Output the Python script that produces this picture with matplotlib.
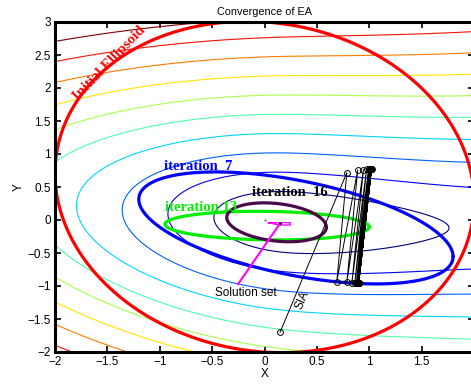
import numpy as np
import matplotlib
matplotlib.use("Agg")
import matplotlib.pyplot as plt

plt.rcParams['font.family'] = ['Liberation Sans', 'DejaVu Sans']
plt.rcParams['axes.unicode_minus'] = True

# ---- objective landscape (contoured) ----
valley_x0 = 0.25        # x of the valley minimum
slope_left = 2.3        # level growth per unit x to the left of the minimum
slope_right = 1.42      # level growth per unit x to the right of the minimum
flatten_right = 0.30    # quadratic easing of the growth to the right
bend = 0.3
mid_coef = [-0.013, -0.094, 0.019]   # valley centre line y = c0 + c1 x + c2 x^2
width_a, width_b = 0.29, 0.013       # vertical scale of the valley
contour_levels = [1.58, 2.58, 3.58, 4.58, 5.58, 6.58, 7.58, 8.58, 9.58, 10.58]

# ---- ellipsoids: centre and shape matrix [p11, p12, p22] ----
ell_initial_c = [0.0, 0.5]
ell_initial_P = [4.0, -0.42, 6.3]
ell_it7_c = [0.3, -0.12]
ell_it7_P = [2.25, -0.65, 0.72]
ell_it13_c = [0.025, -0.085]
ell_it13_P = [0.95, -0.02, 0.047]
ell_it16_c = [0.115, -0.035]
ell_it16_P = [0.226, -0.035, 0.087]

# ---- SIA iterates ----
sia_x = [0.149, 0.786, 0.690, 0.890, 0.786, 0.945, 0.834, 0.975, 0.862, 0.993, 0.876,
         1.003, 0.884, 1.009, 0.889, 1.013, 0.892, 1.016, 0.894, 1.018, 0.896, 1.019,
         0.897, 1.020, 0.898, 1.021, 0.898, 1.021, 0.899, 1.022, 0.899]
sia_y = [-1.70, 0.717, -0.935, 0.758, -0.945, 0.765, -0.952, 0.770, -0.955, 0.773, -0.957,
         0.775, -0.958, 0.776, -0.959, 0.777, -0.960, 0.778, -0.960, 0.778, -0.961, 0.779,
         -0.961, 0.779, -0.961, 0.779, -0.962, 0.780, -0.962, 0.780, -0.962]

# ---- solution set polygon ----
sol_x = [0.037, 0.245, 0.245, 0.14, 0.037]
sol_y = [-0.041, -0.041, -0.076, -0.076, -0.041]

x_ticks = [-2, -1.5, -1, -0.5, 0, 0.5, 1, 1.5, 2]
y_ticks = [-2, -1.5, -1, -0.5, 0, 0.5, 1, 1.5, 2, 2.5, 3]


def objective(x, y):
    dx = x - valley_x0
    c1 = 0.5 * (slope_left + slope_right)
    c2 = 0.5 * (slope_left - slope_right)
    u = c1 * dx - c2 * (np.sqrt(dx ** 2 + bend ** 2) - bend) - flatten_right * np.maximum(dx, 0) ** 2
    mid = mid_coef[0] + mid_coef[1] * x + mid_coef[2] * x ** 2
    v = (y - mid) / (width_a + width_b * x)
    return np.sqrt(u ** 2 + v ** 2)


def ellipse_pts(c, P, n=400):
    M = np.array([[P[0], P[1]], [P[1], P[2]]])
    L = np.linalg.cholesky(M)
    t = np.linspace(0, 2 * np.pi, n)
    pts = L @ np.vstack([np.cos(t), np.sin(t)])
    return c[0] + pts[0], c[1] + pts[1]


fig = plt.figure(figsize=(4.71, 3.86), dpi=100)
ax = fig.add_axes([55 / 471, 34 / 386, 419 / 471, 330 / 386])

gx = np.linspace(-2, 2, 600)
gy = np.linspace(-2, 3, 600)
GX, GY = np.meshgrid(gx, gy)
ax.contour(GX, GY, objective(GX, GY), levels=contour_levels, cmap='jet', linewidths=0.8)

for c, P, col in [(ell_initial_c, ell_initial_P, '#ff0000'),
                  (ell_it7_c, ell_it7_P, '#0000ff'),
                  (ell_it13_c, ell_it13_P, '#00ee00'),
                  (ell_it16_c, ell_it16_P, '#4a0a48')]:
    ex, ey = ellipse_pts(c, P)
    ax.plot(ex, ey, color=col, lw=2.3, solid_capstyle='round')

ax.plot(sia_x, sia_y, 'k-o', lw=0.7, ms=4.2, mfc='none', mew=0.7)

ax.plot(sol_x, sol_y, color='#ff00ff', lw=1.0)
ax.plot([0.14, -0.252], [-0.07, -0.97], color='#ff00ff', lw=1.5)
ax.plot([0.149], [-0.05], 'k.', ms=2)
ax.plot([0.0], [0.0], '.', color='#888888', ms=1.5)

serif = ['Liberation Serif', 'DejaVu Serif']
ax.text(-1.78, 1.80, 'Initial Ellipsoid', color='#ff0000', fontsize=10.5, fontweight='bold',
        family=serif, rotation=46, rotation_mode='anchor', ha='left', va='baseline')
ax.text(-0.96, 0.76, 'iteration  7', color='#0000ff', fontsize=10.5, fontweight='bold',
        family=serif, ha='left', va='baseline')
ax.text(-0.95, 0.14, 'iteration 13', color='#00ee00', fontsize=10.5, fontweight='bold',
        family=serif, ha='left', va='baseline')
ax.text(-0.12, 0.36, 'iteration  16', color='black', fontsize=10.5, fontweight='bold',
        family=serif, ha='left', va='baseline')
ax.text(-0.176, -1.106, 'Solution set', fontsize=8.5, ha='center', va='center')
ax.text(0.36, -1.21, 'SIA', fontsize=8.5, rotation=67, ha='center', va='center')

ax.set_xlim(-2, 2)
ax.set_ylim(-2, 3)
ax.set_xticks(x_ticks)
ax.set_yticks(y_ticks)
ax.set_xticklabels([f'{v:g}'.replace('-', '\u2212') for v in x_ticks])
ax.set_yticklabels([f'{v:g}'.replace('-', '\u2212') for v in y_ticks])
ax.tick_params(direction='in', length=4, width=1.2, labelsize=8.5, top=True, right=True, pad=3)
for s in ax.spines.values():
    s.set_linewidth(2.2)
ax.set_xlabel('X', fontsize=8.5, labelpad=0)
ax.set_ylabel('Y', fontsize=8.5, labelpad=2)
ax.set_title('Convergence of EA', fontsize=7.8, pad=5)

fig.savefig('out.png', dpi=100)
